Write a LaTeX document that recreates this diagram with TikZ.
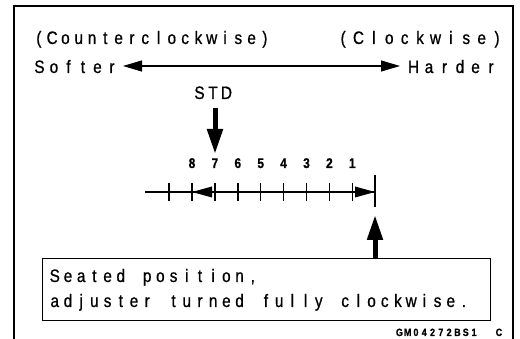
\documentclass[tikz,border=0pt]{standalone}
\usepackage{fontspec}
\setmainfont{Liberation Sans}[FakeStretch=0.85,FakeBold=0.8]
\usetikzlibrary{arrows.meta}
\ExplSyntaxOn
\NewDocumentCommand\monotext{mm}{\str_map_inline:nn{#2}{\makebox[#1][c]{##1}}}
\ExplSyntaxOff
\tikzset{
  outerframe/.style={line width=1.8pt},
  thinline/.style={line width=1.1pt},
  tickline/.style={line width=1.4pt},
  lbl/.style={inner sep=0pt, font=\fontsize{18}{20}\selectfont},
  numlbl/.style={inner sep=0pt, font=\fontsize{14}{16}\selectfont\bfseries},
  codelbl/.style={inner sep=0pt, font=\fontsize{10.5}{11}\selectfont\bfseries},
  bigarrow/.style={line width=5pt, -{Triangle[length=25pt,width=15pt]}},
  dblarrow/.style={thinline, {Triangle[length=19pt,width=11pt]}-{Triangle[length=19pt,width=11pt]}},
  boxst/.style={draw, thinline, minimum width=448pt, minimum height=62pt, inner sep=0pt},
}
\begin{document}
\begin{tikzpicture}[x=1pt,y=-1pt]
\useasboundingbox (0,0) rectangle (520,339);
% outer frame (open at the bottom)
\draw[outerframe] (14,340) -- (14,6) -- (513,6) -- (513,340);
% top labels
\node[lbl, anchor=base west] (ccw) at (32,44) {\monotext{13.3pt}{(Counterclockwise)}};
\node[lbl, anchor=base east] (cw) at (505,44) {\monotext{15.4pt}{(Clockwise)}};
\node[lbl, anchor=base west] (soft) at (32,73) {\monotext{14.5pt}{Softer}};
\node[lbl, anchor=base east] (hard) at (499,73) {\monotext{15.5pt}{Harder}};
\coordinate (dL) at (123,66);
\coordinate (dR) at (400,66);
\draw[dblarrow] (dL) -- (dR);
% STD
\node[lbl, anchor=base] (std) at (213,99) {\monotext{13.5pt}{STD}};
\coordinate (stdA) at (215,108);
\coordinate (stdB) at (215,154);
\draw[bigarrow] (stdA) -- (stdB);
% numbers
\foreach \n [count=\i from 0] in {8,7,6,5,4,3,2,1}
  \node[numlbl, anchor=base] (n\n) at (192+22.9*\i,168) {\n};
% scale
\coordinate (sL) at (145,192);
\coordinate (sR) at (375,192);
\draw[thinline] (sL) -- (sR);
\draw[tickline] (169,183) -- (169,201);
\foreach \i in {0,...,7}
  \draw[tickline] (192+22.9*\i,183) -- (192+22.9*\i,201);
\draw[thinline] (375,175) -- (375,207);
\fill (192,192) -- (212,186.5) -- (212,197.5) -- cycle;
\fill (375,192) -- (355,186.5) -- (355,197.5) -- cycle;
% box
\node[boxst, anchor=north west] (box) at (42,258) {};
\node[lbl, anchor=base west] (l1) at (48,282) {\monotext{13.2pt}{Seated position,}};
\node[lbl, anchor=base west] (l2) at (48,307) {\monotext{13.2pt}{adjuster turned fully clockwise.}};
\coordinate (upTip) at (375,215);
\draw[bigarrow] (box.north -| upTip) -- (upTip);
% code
\node[codelbl, anchor=base west] (code) at (395,336) {\monotext{8.3pt}{GM04272BS1}\makebox[16.6pt]{}\monotext{8.3pt}{C}};
\end{tikzpicture}
\end{document}
